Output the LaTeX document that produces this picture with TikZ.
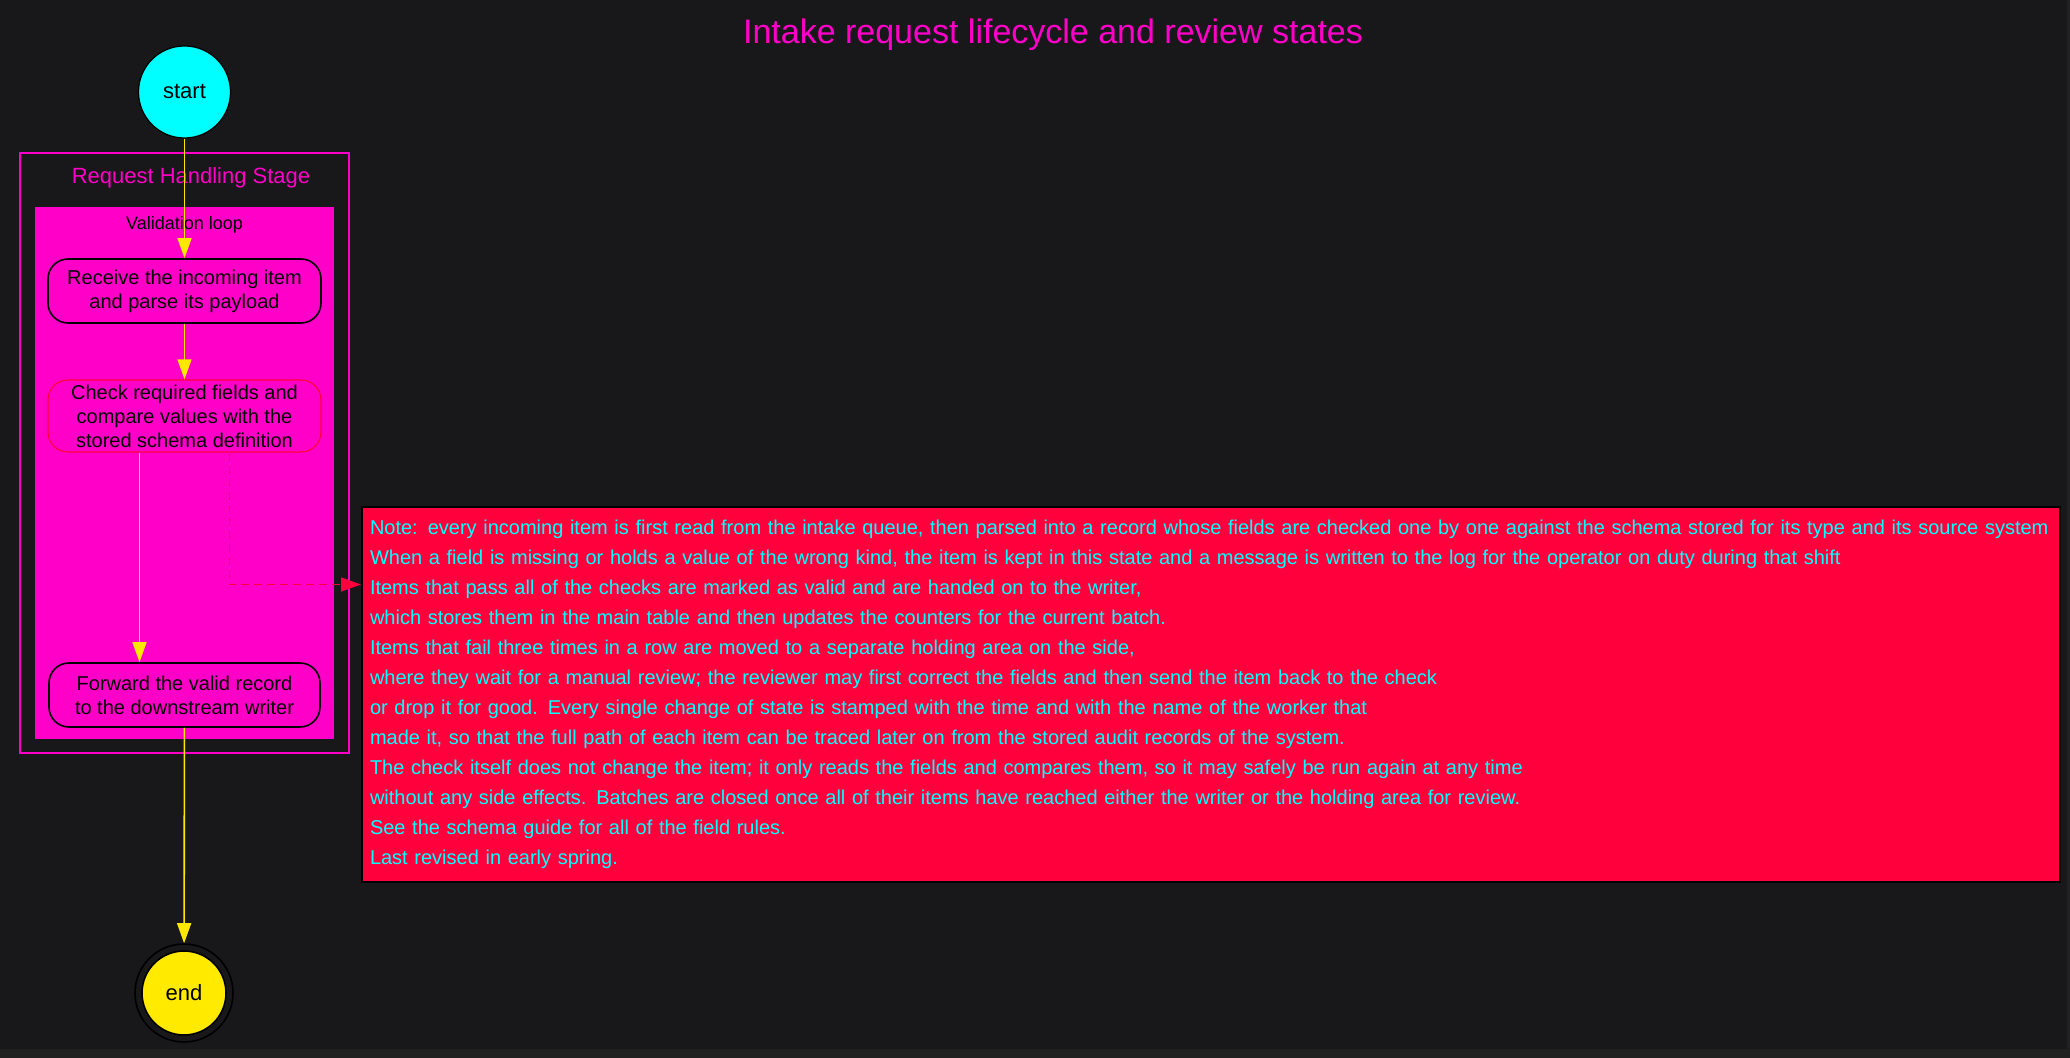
\documentclass[tikz,border=0pt]{standalone}
\usepackage{fontspec}
\setmainfont{Liberation Sans}
\usetikzlibrary{arrows.meta}

\definecolor{canvas}{RGB}{24,24,27}
\definecolor{edgebg}{RGB}{32,32,32}
\definecolor{hotpink}{RGB}{255,0,200}
\definecolor{notered}{RGB}{255,0,60}
\definecolor{flowyellow}{RGB}{255,232,0}
\definecolor{startcyan}{RGB}{0,255,255}
\definecolor{endyellow}{RGB}{255,234,0}

\tikzset{
    startstate/.style={circle, draw=black, line width=0.6pt, fill=startcyan, minimum size=46pt, font=\fontsize{11}{13}\selectfont},
    endring/.style={circle, draw=black, line width=0.8pt, fill=canvas, minimum size=49pt},
    endstate/.style={circle, draw=black, line width=0.8pt, fill=endyellow, minimum size=42pt, font=\fontsize{11}{13}\selectfont},
    stagebox/.style={rectangle, draw=hotpink, line width=1.2pt, fill=canvas, minimum width=164.5pt, minimum height=300pt},
    loopbox/.style={rectangle, fill=hotpink, minimum width=149.5pt, minimum height=266pt},
    statebox/.style={rectangle, rounded corners=10pt, draw=black, line width=0.8pt, fill=hotpink, minimum width=136.5pt, minimum height=32pt, align=center, font=\fontsize{10}{12}\selectfont},
    notebox/.style={rectangle, draw=black, line width=1pt, fill=notered, text=startcyan, text width=841pt, inner xsep=4pt, minimum height=187.5pt, align=left, font=\fontsize{10}{15}\selectfont},
    flow/.style={draw=flowyellow, line width=0.8pt, -{Triangle[length=10pt,width=7pt]}},
    notelink/.style={draw=notered, line width=0.8pt, dash pattern=on 4pt off 2.5pt, -{Triangle[length=10pt,width=7pt]}}
}

\begin{document}
\begin{tikzpicture}[x=0.5pt, y=-0.5pt]
    \fill[edgebg] (0,0) rectangle (2070,1058);
    \fill[canvas] (0,0) rectangle (2067,1049);
    \useasboundingbox (0,0) rectangle (2070,1058);

    \node[text=hotpink, font=\fontsize{17}{20}\selectfont] (title) at (1053,35) {Intake request lifecycle and review states};

    \node[startstate] (start) at (184.5,92) {start};

    \node[stagebox] (stage) at (184.5,453) {};
    \node[text=hotpink, font=\fontsize{11}{13}\selectfont] (stagelabel) at (191,178) {Request Handling Stage};
    \node[loopbox] (loop) at (184.5,473) {};
    \node[font=\fontsize{9}{11}\selectfont] (looplabel) at (184.5,225) {Validation loop};

    \node[statebox] (receive) at (184.5,291) {Receive the incoming item\\and parse its payload};
    \node[statebox, draw=notered, line width=0.6pt, minimum height=36pt, inner ysep=1pt] (check) at (184.5,416) {Check required fields and\\compare values with the\\stored schema definition};
    \node[statebox, minimum width=135.5pt] (forward) at (184.5,695) {Forward the valid record\\to the downstream writer};

    \node[endring] (endo) at (184,993) {};
    \node[endstate] (end) at (endo) {end};

    \node[notebox] (note) at (1211,694.5) {Note: every incoming item is first read from the intake queue, then parsed into a record whose fields are checked one by one against the schema stored for its type and its source system\\
        When a field is missing or holds a value of the wrong kind, the item is kept in this state and a message is written to the log for the operator on duty during that shift\\
        Items that pass all of the checks are marked as valid and are handed on to the writer,\\
        which stores them in the main table and then updates the counters for the current batch.\\
        Items that fail three times in a row are moved to a separate holding area on the side,\\
        where they wait for a manual review; the reviewer may first correct the fields and then send the item back to the check\\
        or drop it for good. Every single change of state is stamped with the time and with the name of the worker that\\
        made it, so that the full path of each item can be traced later on from the stored audit records of the system.\\
        The check itself does not change the item; it only reads the fields and compares them, so it may safely be run again at any time\\
        without any side effects. Batches are closed once all of their items have reached either the writer or the holding area for review.\\
        See the schema guide for all of the field rules.\\
        Last revised in early spring.};

    \draw[flow] (start) -- (receive);
    \draw[flow] (receive) -- (check);
    \draw[flow] ([xshift=-22.5pt]check.south) -- ([xshift=-22.5pt]forward.north);
    \draw[notelink] ([xshift=22.5pt]check.south) |- ([yshift=55pt]note.west);
    \draw[flow] (forward) -- (endo);
\end{tikzpicture}
\end{document}
